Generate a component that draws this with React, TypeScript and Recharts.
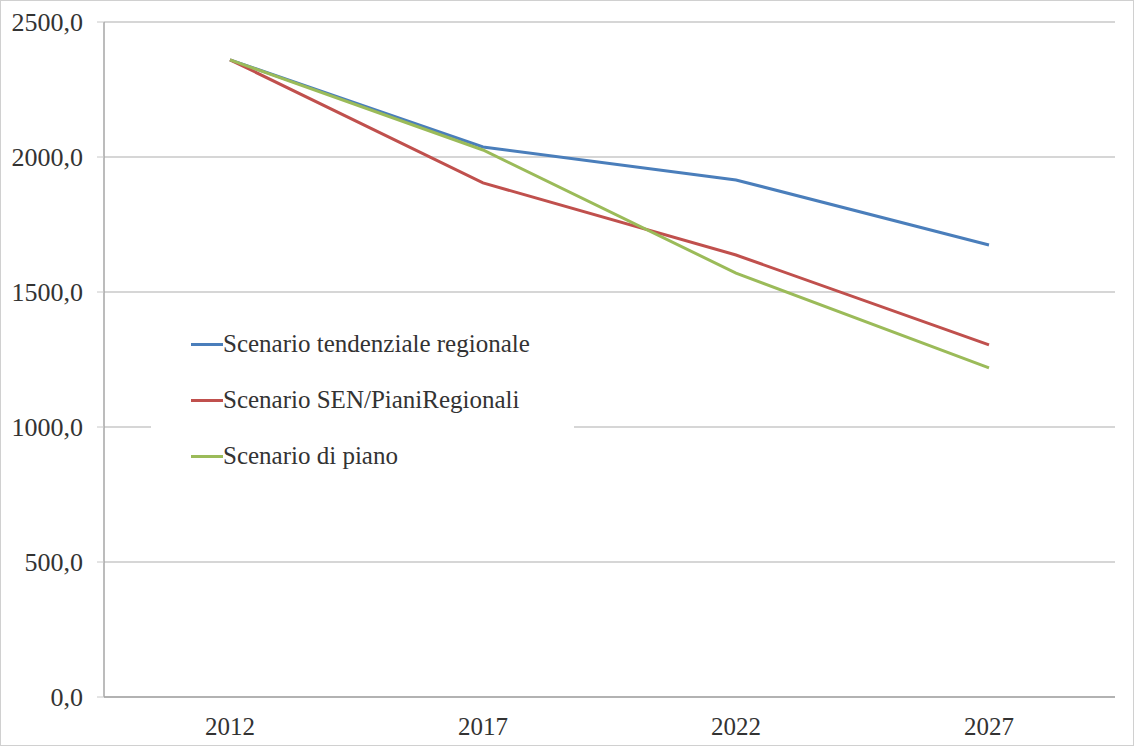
import React from 'react';
import { LineChart, Line, XAxis, YAxis, CartesianGrid, Legend } from 'recharts';

const years = ['2012', '2017', '2022', '2027'];
const tendenziale = [2360, 2037, 1915, 1674];
const senPiani = [2360, 1904, 1637, 1304];
const piano = [2360, 2026, 1570, 1219];
const yTicks = [0, 500, 1000, 1500, 2000, 2500];

const series = [
  { key: 'tendenziale', name: 'Scenario tendenziale regionale', color: '#4A7EBB' },
  { key: 'senPiani', name: 'Scenario SEN/PianiRegionali', color: '#C0504D' },
  { key: 'piano', name: 'Scenario di piano', color: '#9BBB59' },
];

const data = years.map((year, i) => ({
  year,
  tendenziale: tendenziale[i],
  senPiani: senPiani[i],
  piano: piano[i],
}));

const FONT = '"Liberation Serif", "DejaVu Serif", serif';

const fmt = (v: number) => v.toFixed(1).replace('.', ',');

const LegendBox = () => (
  <div style={{ background: '#fff', padding: '8px 44px 10px 40px', fontFamily: FONT }}>
    {series.map((s) => (
      <div key={s.key} style={{ display: 'flex', alignItems: 'center', height: 56 }}>
        <span style={{ display: 'inline-block', width: 32, height: 3, background: s.color }} />
        <span style={{ fontSize: 25, color: '#333' }}>{s.name}</span>
      </div>
    ))}
  </div>
);

export default function App() {
  return (
    <div
      style={{
        position: 'absolute',
        left: 0,
        top: 0,
        width: 1134,
        height: 746,
        background: '#fff',
        boxSizing: 'border-box',
        border: '1px solid #d0d0d0',
      }}
    >
      <LineChart width={1132} height={744} data={data} margin={{ top: 21, right: 18, bottom: 0, left: 0 }}>
        <CartesianGrid vertical={false} stroke="#c8c8c8" strokeWidth={1.5} />
        <XAxis
          dataKey="year"
          height={48}
          padding={{ left: 126, right: 126 }}
          axisLine={{ stroke: '#a6a6a6', strokeWidth: 1.5 }}
          tickLine={false}
          tickMargin={14}
          tick={{ fontFamily: FONT, fontSize: 25, fill: '#333' }}
        />
        <YAxis
          width={103}
          domain={[0, 2500]}
          ticks={yTicks}
          tickFormatter={fmt}
          axisLine={{ stroke: '#a6a6a6', strokeWidth: 1.5 }}
          tickLine={{ stroke: '#c8c8c8' }}
          tickSize={7}
          tickMargin={14}
          tick={{ fontFamily: FONT, fontSize: 26, fill: '#333' }}
        />
        <Legend
          layout="vertical"
          align="center"
          verticalAlign="middle"
          wrapperStyle={{ left: 150, top: 307, width: 'auto', height: 'auto' }}
          content={() => <LegendBox />}
        />
        {series.map((s) => (
          <Line
            key={s.key}
            dataKey={s.key}
            name={s.name}
            stroke={s.color}
            strokeWidth={3}
            dot={false}
            isAnimationActive={false}
          />
        ))}
      </LineChart>
    </div>
  );
}
